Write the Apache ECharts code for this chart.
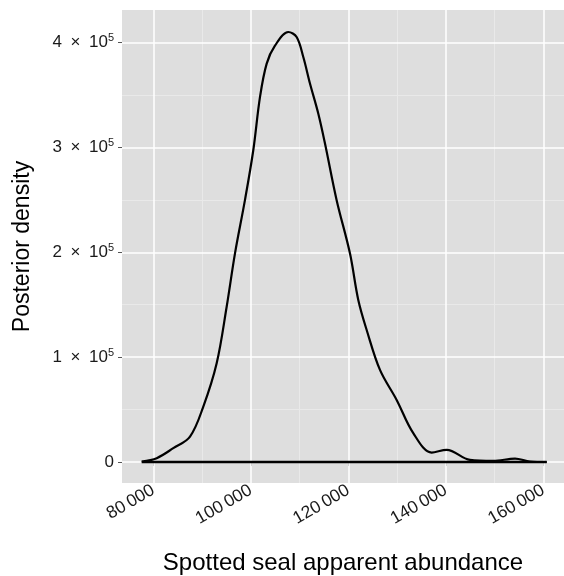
<!DOCTYPE html>
<html><head><meta charset="utf-8">
<script src="https://cdn.jsdelivr.net/npm/echarts@6/dist/echarts.min.js"></script>
<style>html,body{margin:0;padding:0;background:#fff}#c{width:564px;height:576px}</style>
</head><body><div id="c"></div>
<script>
// Density curve (abundance, density)
const abundance = [77620, 80700, 84100, 87530, 90260, 93000, 95050, 96760, 98800, 100510, 101890, 103260, 104960, 107700, 109400, 110770, 112140, 113840, 115220, 117610, 120340, 122050, 123770, 126500, 129920, 133330, 137100, 140180, 144950, 149750, 154200, 157260, 160700];
const density = [500, 3700, 13200, 24300, 52900, 94200, 148100, 199000, 249700, 297300, 348100, 379900, 397000, 410000, 405200, 386200, 360900, 332300, 303700, 249700, 199000, 154500, 125900, 87800, 59200, 27500, 9050, 11600, 2100, 1100, 3300, 500, 0];
const xTicks = [80000, 100000, 120000, 140000, 160000];
const xMinor = [90000, 110000, 130000, 150000];
const yTicks = [0, 100000, 200000, 300000, 400000];
const yMinor = [50000, 150000, 250000, 350000];
const yTickLabels = ['0', '1', '2', '3', '4'];
const xTitle = 'Spotted seal apparent abundance';
const yTitle = 'Posterior density';

const FONT = '"Liberation Sans", Arial, sans-serif';
const chart = echarts.init(document.getElementById('c'));
const curveData = abundance.map((x, i) => [x, density[i]]);
const baseData = [[abundance[0], 0], [abundance[abundance.length - 1], 0]];

function vLines(vals, color, w) { return vals.map(v => ({ xAxis: v, lineStyle: { color, width: w, type: 'solid' } })); }
function hLines(vals, color, w) { return vals.map(v => ({ yAxis: v, lineStyle: { color, width: w, type: 'solid' } })); }

chart.setOption({
  animation: false,
  textStyle: { fontFamily: FONT },
  grid: { left: 122, top: 10, right: 0, bottom: 93, show: true, backgroundColor: '#DEDEDE', borderWidth: 0, containLabel: false, outerBoundsMode: 'none' },
  xAxis: {
    type: 'value', min: 73580, max: 164250,
    splitLine: { show: false },
    axisLine: { show: false },
    axisTick: { show: true, length: 4, lineStyle: { color: '#555', width: 1 }, customValues: xTicks },
    axisLabel: {
      customValues: xTicks, rotate: 30, fontSize: 17.5, color: '#1a1a1a', fontFamily: FONT, margin: 6,
      formatter: v => { const s = String(v); return s.slice(0, s.length - 3) + '\u2009' + s.slice(-3); }
    },
    name: xTitle, nameLocation: 'middle', nameGap: 68,
    nameTextStyle: { fontSize: 24, color: '#000', fontFamily: FONT }
  },
  yAxis: {
    type: 'value', min: -20000, max: 431000,
    splitLine: { show: false },
    axisLine: { show: false },
    axisTick: { show: true, length: 4, lineStyle: { color: '#555', width: 1 }, customValues: yTicks },
    axisLabel: {
      customValues: yTicks, fontSize: 17, color: '#1a1a1a', fontFamily: FONT, margin: 8,
      formatter: v => { const i = yTicks.indexOf(v); const d = yTickLabels[i]; return d === '0' ? '{a|0}' : '{a|' + d + '\u2002\u00d7\u200210}{s|5}'; },
      rich: {
        a: { fontSize: 17, color: '#1a1a1a', fontFamily: FONT },
        s: { fontSize: 11, color: '#1a1a1a', fontFamily: FONT, verticalAlign: 'top', padding: [0, 0, 9, 0] }
      }
    },
    name: yTitle, nameLocation: 'middle', nameGap: 88, nameRotate: 90,
    nameTextStyle: { fontSize: 23, color: '#000', fontFamily: FONT }
  },
  series: [
    {
      type: 'line', data: [], z: 1, silent: true,
      markLine: {
        silent: true, symbol: 'none', label: { show: false }, z: 1, animation: false,
        data: [].concat(vLines(xMinor, '#E9E9E9', 1), hLines(yMinor, '#E9E9E9', 1), vLines(xTicks, '#FFFFFF', 1.5), hLines(yTicks, '#FFFFFF', 1.5))
      }
    },
    {
      type: 'line', data: baseData, z: 3, symbol: 'none', silent: true,
      lineStyle: { color: '#000', width: 2.5 }
    },
    {
      type: 'line', data: curveData, z: 4, symbol: 'none', smooth: 0.35, silent: true,
      lineStyle: { color: '#000', width: 2.2 }
    }
  ]
});
</script></body></html>
